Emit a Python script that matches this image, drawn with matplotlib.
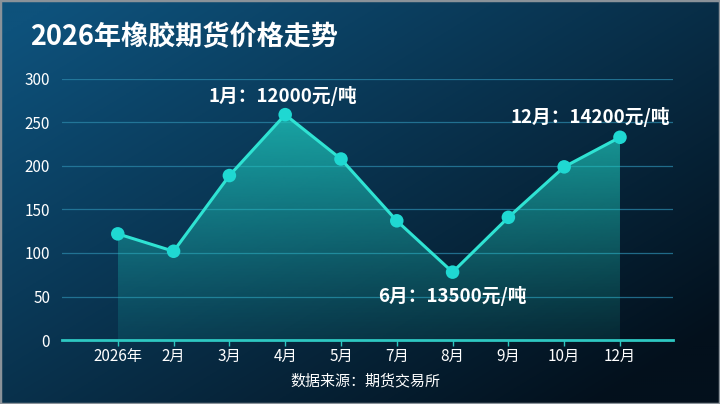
import matplotlib
matplotlib.use("Agg")
import matplotlib.pyplot as plt
import numpy as np
from matplotlib.patches import Polygon, Rectangle

plt.rcParams['font.family'] = ['Noto Sans CJK SC', 'DejaVu Sans']

categories = ["2026年", "2月", "3月", "4月", "5月", "7月", "8月", "9月", "10月", "12月"]
values = [122, 102, 189, 259, 208, 137, 78, 141, 199, 233]
y_ticks = [0, 50, 100, 150, 200, 250, 300]
title = "2026年橡胶期货价格走势"
source = "数据来源：期货交易所"
annotations = [(3, "1月：12000元/吨", -2, 13.5), (6, "6月：13500元/吨", 0, -17.5), (9, "12月：14200元/吨", -21.5, 14.5)]

fig = plt.figure(figsize=(7.2, 4.04), dpi=100)

# background gradient
bg = fig.add_axes([0, 0, 1, 1], zorder=0)
bg.set_axis_off()
yy, xx = np.mgrid[0:1:200j, 0:1:360j]
t = np.clip(0.6 * xx + 0.55 * yy - 0.05, 0, 1)  # yy=0 top row
c0 = np.array([0x0e, 0x52, 0x7c]) / 255
c1 = np.array([0x03, 0x10, 0x1c]) / 255
img = c0[None, None, :] * (1 - t[..., None]) + c1[None, None, :] * t[..., None]
bg.imshow(img, extent=[0, 1, 0, 1], aspect='auto', origin='upper')
bg.set_xlim(0, 1); bg.set_ylim(0, 1)
bg.add_patch(Rectangle((0, 0), 1, 1, fill=False, edgecolor='#8a9299', lw=2.5, transform=bg.transAxes))

ax = fig.add_axes([0.0861, 0.1584, 0.8486, 0.6461], zorder=1)
ax.set_facecolor('none')
x = np.arange(len(categories))

# gridlines
for v in y_ticks[1:]:
    ax.axhline(v, color='#2a86a8', lw=0.9, alpha=0.75, zorder=1)

# gradient fill under curve
poly_pts = [(x[0], 0)] + list(zip(x, values)) + [(x[-1], 0)]
poly = Polygon(poly_pts, closed=True, facecolor='none', edgecolor='none')
ax.add_patch(poly)
grad = np.linspace(1, 0, 256)
rgba = np.zeros((256, 1, 4))
rgba[:, 0, 0] = 0x1e / 255
rgba[:, 0, 1] = 0xc8 / 255
rgba[:, 0, 2] = 0xbc / 255
rgba[:, 0, 3] = 0.12 + 0.64 * grad**1.2
im = ax.imshow(rgba, extent=[x[0], x[-1], 0, max(values)], aspect='auto', origin='upper', zorder=2)
im.set_clip_path(poly)
ax.set_xlim(-1, len(categories) - 0.05)
ax.set_ylim(0, 300)

ax.plot(x, values, color='#2fe3d3', lw=2.2, zorder=3)
ax.scatter(x, values, s=95, color='#1fd8d2', zorder=4, edgecolors='none')

for i, txt, dx, dy in annotations:
    ax.annotate(txt, (x[i], values[i]), xytext=(dx, dy), textcoords='offset points',
                ha='center', va='center', color='white', fontsize=13.5, fontweight='bold', zorder=5)

for s in ['top', 'right', 'left']:
    ax.spines[s].set_visible(False)
ax.spines['bottom'].set_color('#2ec8c2')
ax.spines['bottom'].set_linewidth(2)
ax.set_xticks(x)
ax.set_xticklabels(categories, color='white', fontsize=11)
ax.set_yticks(y_ticks)
ax.set_yticklabels([str(v) for v in y_ticks], color='white', fontsize=11)
ax.tick_params(axis='x', colors='#2ec8c2', length=4, width=1, pad=2, labelcolor='white')
ax.tick_params(axis='y', length=0, pad=8.5, labelcolor='white')

fig.text(0.042, 0.908, title, color='white', fontsize=19.5, fontweight='bold', va='center', ha='left', zorder=3)
fig.text(0.508, 0.057, source, color='white', fontsize=10.8, ha='center', va='center', zorder=3)

fig.savefig("out.png", dpi=100)
